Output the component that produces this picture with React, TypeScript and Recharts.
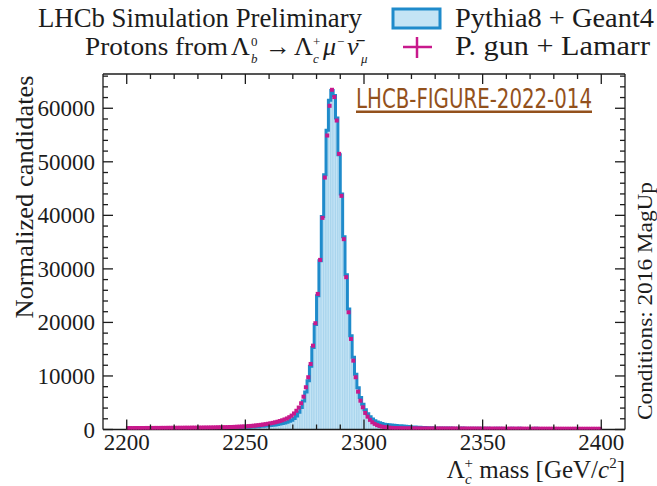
import React from 'react';
import { ComposedChart, Bar, Line, Scatter, XAxis, YAxis } from 'recharts';

// Lambda_c+ mass histogram, 1 MeV bins from 2200 to 2400
const BIN_START = 2200;
const BIN_WIDTH = 1;

// P. gun + Lamarr (magenta markers)
const lamarr = [
  260, 270, 260, 270, 280, 270, 280, 280, 290, 280,
  290, 290, 300, 290, 300, 300, 300, 310, 310, 310,
  310, 320, 320, 320, 330, 330, 330, 340, 340, 340,
  350, 350, 360, 360, 370, 370, 380, 390, 400, 410,
  420, 430, 440, 460, 470, 490, 510, 530, 550, 570,
  600, 630, 670, 710, 760, 810, 870, 930, 1000, 1070,
  1150, 1240, 1340, 1450, 1580, 1720, 1880, 2060, 2300, 2600,
  3000, 3500, 4100, 4900, 6130, 7890, 9760, 12240, 15660, 19850,
  25330, 31680, 39530, 47060, 54910, 60460, 63450, 62090, 57710, 51490,
  43640, 35550, 28450, 21900, 16910, 12860, 9760, 7070, 5380, 4150,
  3100, 2400, 1800, 1350, 1050, 820, 660, 540, 450, 390,
  340, 310, 280, 260, 245, 235, 225, 215, 210, 205,
  200, 200, 195, 195, 190, 190, 190, 185, 185, 185,
  180, 180, 180, 180, 175, 175, 175, 175, 170, 170,
  170, 170, 170, 165, 165, 165, 165, 165, 160, 160,
  160, 160, 160, 160, 155, 155, 155, 155, 155, 155,
  150, 150, 150, 150, 150, 150, 150, 145, 145, 145,
  145, 145, 145, 145, 140, 140, 140, 140, 140, 140,
  140, 140, 135, 135, 135, 135, 135, 135, 135, 135,
  130, 130, 130, 130, 130, 130, 130, 130, 130, 130,
];

// Pythia8 + Geant4 (blue histogram)
const pythia = [
  180, 240, 150, 260, 200, 130, 280, 220, 170, 250,
  210, 160, 290, 230, 190, 270, 150, 240, 300, 200,
  230, 280, 190, 250, 310, 220, 270, 200, 330, 260,
  240, 300, 280, 220, 330, 290, 250, 350, 300, 340,
  310, 380, 330, 360, 400, 350, 420, 390, 440, 410,
  460, 430, 500, 480, 540, 520, 590, 610, 650, 700,
  740, 800, 860, 930, 1010, 1100, 1220, 1360, 1530, 1750,
  2050, 2500, 3200, 4100, 5300, 7000, 9100, 11800, 15300, 19600,
  25000, 31500, 39800, 47600, 55900, 61500, 63300, 62400, 58200, 51300,
  44000, 36000, 28900, 22500, 17500, 13500, 10300, 7800, 6000, 4700,
  3700, 2950, 2400, 1950, 1650, 1400, 1250, 1100, 1000, 950,
  900, 850, 800, 760, 720, 680, 640, 600, 560, 520,
  490, 460, 430, 410, 390, 370, 350, 330, 310, 300,
  280, 260, 290, 240, 270, 230, 260, 220, 250, 230,
  210, 260, 200, 240, 220, 190, 250, 210, 230, 200,
  220, 190, 240, 180, 210, 230, 170, 220, 200, 190,
  210, 180, 230, 170, 200, 220, 160, 210, 190, 180,
  200, 170, 220, 160, 190, 210, 150, 200, 180, 170,
  190, 160, 210, 150, 180, 200, 140, 190, 170, 160,
  180, 150, 200, 140, 170, 190, 130, 180, 160, 150,
];

const xTicks = [
  2200, 2210, 2220, 2230, 2240, 2250, 2260, 2270, 2280, 2290, 2300,
  2310, 2320, 2330, 2340, 2350, 2360, 2370, 2380, 2390, 2400,
];
const yTicks = [
  0, 2000, 4000, 6000, 8000, 10000, 12000, 14000, 16000, 18000, 20000,
  22000, 24000, 26000, 28000, 30000, 32000, 34000, 36000, 38000, 40000,
  42000, 44000, 46000, 48000, 50000, 52000, 54000, 56000, 58000, 60000,
  62000, 64000, 66000,
];
const X_DOMAIN: [number, number] = [2190, 2410];
const Y_DOMAIN: [number, number] = [0, 66400];

const data = lamarr.map((v, i) => ({
  x: BIN_START + (i + 0.5) * BIN_WIDTH,
  lamarr: v,
  pythia: pythia[i],
}));

const W = 657;
const H = 486;
// plot box: x 103..625, y 74..429.5 (axes take 1px each)
const MARGIN = { top: 73, right: 31, bottom: 55.5, left: 102 };
const PLOT_W = 625 - 103;
const BAR_PX = (PLOT_W * BIN_WIDTH) / (X_DOMAIN[1] - X_DOMAIN[0]);

const SERIF = '"Liberation Serif", "Times New Roman", serif';
const INK = '#1c1c1c';
const BLUE = '#1f8bcb';
const FILL = '#c4e4f5';
const SEP = '#8fc6e6';
const MAGENTA = '#c8198c';
const BROWN = '#93511c';

function xTick(side: 'bottom' | 'top') {
  return (p: any) => {
    const v = p.payload.value as number;
    const major = v % 50 === 0;
    const len = major ? 10 : 5;
    const dir = side === 'bottom' ? -1 : 1;
    return (
      <g>
        <line x1={p.x} x2={p.x} y1={p.y} y2={p.y + dir * len} stroke={INK} strokeWidth={1.3} />
        {side === 'bottom' && major && (
          <text x={p.x} y={p.y + 20} textAnchor="middle" fontFamily={SERIF} fontSize={23} fill={INK}>
            {v}
          </text>
        )}
      </g>
    );
  };
}

function yTick(side: 'left' | 'right') {
  return (p: any) => {
    const v = p.payload.value as number;
    const major = v % 10000 === 0;
    const len = major ? 10 : 5;
    const dir = side === 'left' ? 1 : -1;
    return (
      <g>
        <line x1={p.x} x2={p.x + dir * len} y1={p.y} y2={p.y} stroke={INK} strokeWidth={1.3} />
        {side === 'left' && major && (
          <text x={p.x - 8} y={p.y + 8} textAnchor="end" fontFamily={SERIF} fontSize={23} fill={INK}>
            {v}
          </text>
        )}
      </g>
    );
  };
}

const Marker = (p: any) => {
  if (p.cx == null || p.cy == null) return <g />;
  return <rect x={p.cx - 2} y={p.cy - 2} width={4} height={4} fill={MAGENTA} />;
};

const axisLine = { stroke: INK, strokeWidth: 1.3 };

export default function App() {
  return (
    <div style={{ position: 'absolute', left: 0, top: 0, width: W, height: H, background: '#fff' }}>
      <ComposedChart width={W} height={H} data={data} margin={MARGIN}>
        <XAxis
          xAxisId="b"
          dataKey="x"
          type="number"
          domain={X_DOMAIN}
          allowDataOverflow
          ticks={xTicks}
          interval={0}
          height={1}
          tickSize={0}
          tickMargin={0}
          tickLine={false}
          axisLine={axisLine}
          tick={xTick('bottom')}
        />
        <XAxis
          xAxisId="t"
          orientation="top"
          dataKey="x"
          type="number"
          domain={X_DOMAIN}
          allowDataOverflow
          ticks={xTicks}
          interval={0}
          height={1}
          tickSize={0}
          tickMargin={0}
          tickLine={false}
          axisLine={axisLine}
          tick={xTick('top')}
        />
        <YAxis
          yAxisId="l"
          type="number"
          domain={Y_DOMAIN}
          allowDataOverflow
          ticks={yTicks}
          interval={0}
          width={1}
          tickSize={0}
          tickMargin={0}
          tickLine={false}
          axisLine={axisLine}
          tick={yTick('left')}
        />
        <YAxis
          yAxisId="r"
          orientation="right"
          type="number"
          domain={Y_DOMAIN}
          allowDataOverflow
          ticks={yTicks}
          interval={0}
          width={1}
          tickSize={0}
          tickMargin={0}
          tickLine={false}
          axisLine={axisLine}
          tick={yTick('right')}
        />
        <Bar
          xAxisId="b"
          yAxisId="l"
          dataKey="pythia"
          barSize={BAR_PX}
          fill={FILL}
          stroke={SEP}
          strokeWidth={0.5}
          isAnimationActive={false}
        />
        <Line
          xAxisId="b"
          yAxisId="l"
          type="step"
          dataKey="pythia"
          stroke={BLUE}
          strokeWidth={3}
          dot={false}
          activeDot={false}
          isAnimationActive={false}
        />
        <Scatter
          xAxisId="b"
          yAxisId="l"
          dataKey="lamarr"
          fill={MAGENTA}
          shape={Marker}
          isAnimationActive={false}
        />
      </ComposedChart>

      <svg
        width={W}
        height={H}
        style={{ position: 'absolute', left: 0, top: 0, pointerEvents: 'none' }}
        fontFamily={SERIF}
        fill={INK}
      >
        <text x={38} y={27} fontSize={27} textLength={324} lengthAdjust="spacingAndGlyphs">
          LHCb Simulation Preliminary
        </text>

        <g fontSize={26}>
          <text x={85} y={55} textLength={143} lengthAdjust="spacingAndGlyphs">Protons from</text>
          <text x={231} y={55}>Λ</text>
          <text x={251} y={63} fontSize={13} fontStyle="italic">b</text>
          <text x={251} y={46} fontSize={13}>0</text>
          <text x={265} y={55}>→</text>
          <text x={294} y={55}>Λ</text>
          <text x={313} y={63} fontSize={13} fontStyle="italic">c</text>
          <text x={313} y={46} fontSize={13}>+</text>
          <text x={323} y={55} fontStyle="italic">μ</text>
          <text x={337} y={46} fontSize={13}>−</text>
          <text x={347} y={55} fontStyle="italic">{'ν\u0304'}</text>
          <text x={361} y={63} fontSize={13} fontStyle="italic">μ</text>
        </g>

        <rect x={393} y={9} width={47} height={19} fill={FILL} stroke={BLUE} strokeWidth={3} />
        <text x={455} y={27} fontSize={27} textLength={199} lengthAdjust="spacingAndGlyphs">
          Pythia8 + Geant4
        </text>
        <line x1={403} x2={432} y1={47} y2={47} stroke={MAGENTA} strokeWidth={2.5} />
        <line x1={417} x2={417} y1={37} y2={58} stroke={MAGENTA} strokeWidth={2.5} />
        <text x={455} y={55} fontSize={27} textLength={195} lengthAdjust="spacingAndGlyphs">
          P. gun + Lamarr
        </text>

        <text
          x={356}
          y={108}
          fontSize={26}
          fill={BROWN}
          fontFamily='"DejaVu Sans Condensed", "Roboto", sans-serif'
          textLength={236}
          lengthAdjust="spacingAndGlyphs"
        >
          LHCB-FIGURE-2022-014
        </text>
        <rect x={356} y={110.5} width={236} height={2.5} fill={BROWN} />

        <text
          transform="translate(33 197) rotate(-90)"
          textAnchor="middle"
          fontSize={26}
          textLength={243}
          lengthAdjust="spacingAndGlyphs"
        >
          Normalized candidates
        </text>
        <text
          transform="translate(652 301) rotate(-90)"
          textAnchor="middle"
          fontSize={22}
          textLength={238}
          lengthAdjust="spacingAndGlyphs"
        >
          Conditions: 2016 MagUp
        </text>

        <text x={625} y={478} textAnchor="end" fontSize={25}>
          {'Λ'}
          <tspan fontSize={15} fontStyle="italic" dy={6}>c</tspan>
          <tspan fontSize={15} dx={-7} dy={-16}>+</tspan>
          <tspan dy={10}>{' mass [GeV/'}</tspan>
          <tspan fontStyle="italic">c</tspan>
          <tspan fontSize={15} dy={-10}>2</tspan>
          <tspan dy={10}>]</tspan>
        </text>
      </svg>
    </div>
  );
}
